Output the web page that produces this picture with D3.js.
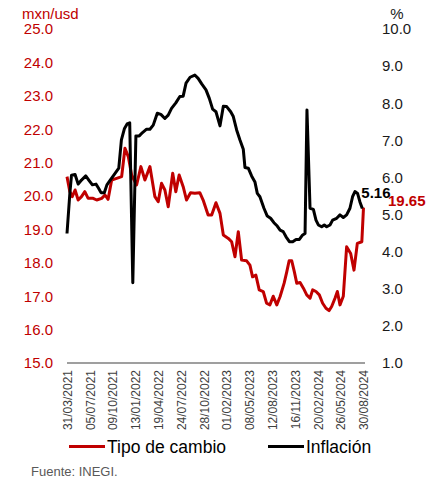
<!DOCTYPE html>
<html lang="es">
<head>
<meta charset="UTF-8">
<title>Tipo de cambio e inflación</title>
<script src="https://d3js.org/d3.v7.min.js"></script>
<style>
  body { margin: 0; background: #fff; }
  #grafico text { font-family: "Liberation Sans", Arial, sans-serif; }
</style>
</head>
<body>
<div id="grafico"></div>
<script>
"use strict"

// tipo de cambio (mxn/usd), eje izquierdo
var fechasTC = ["2021-03-31","2021-04-12","2021-04-22","2021-05-04","2021-05-17","2021-05-31","2021-06-14","2021-06-28",
  "2021-07-19","2021-08-03","2021-08-24","2021-09-07","2021-09-20","2021-10-05","2021-10-26","2021-11-16","2021-11-30",
  "2021-12-14","2021-12-28","2022-01-18","2022-02-05","2022-02-22","2022-03-15","2022-04-05","2022-04-19","2022-05-03",
  "2022-05-17","2022-05-31","2022-06-19","2022-07-02","2022-07-16","2022-08-02","2022-08-16","2022-09-02","2022-09-20",
  "2022-10-11","2022-10-25","2022-11-15","2022-11-30","2022-12-18","2023-01-04","2023-01-18","2023-02-08","2023-02-22",
  "2023-03-08","2023-03-22","2023-04-05","2023-04-26","2023-05-10","2023-05-21","2023-06-04","2023-06-18","2023-07-05",
  "2023-07-19","2023-08-02","2023-08-16","2023-08-31","2023-09-14","2023-10-01","2023-10-12","2023-10-22","2023-11-02",
  "2023-11-13","2023-11-23","2023-12-07","2023-12-21","2024-01-04","2024-01-18","2024-01-29","2024-02-12","2024-02-26",
  "2024-03-11","2024-03-25","2024-04-07","2024-04-18","2024-05-02","2024-05-12","2024-05-23","2024-06-06","2024-06-20",
  "2024-07-07","2024-07-21","2024-08-04","2024-08-23","2024-08-30"];
var tipoCambio = [20.58,20.13,19.98,20.18,19.88,19.98,20.13,19.93,
  19.93,19.88,19.93,20.03,19.90,20.48,20.53,20.58,21.43,
  21.18,20.63,20.33,20.88,20.48,20.88,19.98,19.83,20.38,
  20.18,19.68,20.68,20.13,20.63,20.28,19.88,20.10,20.08,
  20.10,19.88,19.43,19.43,19.80,19.48,18.83,18.73,18.63,
  18.18,18.93,18.08,18.06,17.93,17.58,17.63,17.19,17.14,
  16.79,16.74,17.00,16.74,16.99,17.39,17.73,18.06,18.06,
  17.73,17.39,17.41,17.24,17.04,16.94,17.19,17.14,17.04,
  16.79,16.64,16.57,16.69,16.94,17.14,16.74,17.00,18.48,
  18.28,17.78,18.58,18.63,19.65];

// inflación anual (%), eje derecho
var fechasInf = ["2021-03-31","2021-04-12","2021-04-19","2021-05-04","2021-05-17","2021-05-31","2021-06-18","2021-07-03",
  "2021-07-16","2021-07-31","2021-08-11","2021-08-21","2021-09-04","2021-09-15","2021-09-29","2021-10-17","2021-11-04",
  "2021-11-15","2021-11-28","2021-12-09","2021-12-20","2022-01-02","2022-01-15","2022-01-29","2022-02-12","2022-03-01",
  "2022-03-15","2022-03-29","2022-04-15","2022-04-30","2022-05-17","2022-05-31","2022-06-14","2022-07-02","2022-07-19",
  "2022-08-02","2022-08-14","2022-08-31","2022-09-20","2022-10-04","2022-10-19","2022-11-06","2022-11-20","2022-12-04",
  "2022-12-18","2023-01-04","2023-01-18","2023-02-01","2023-02-18","2023-03-01","2023-03-15","2023-03-29","2023-04-12",
  "2023-04-19","2023-05-03","2023-05-17","2023-05-31","2023-06-10","2023-06-21","2023-07-08","2023-07-22","2023-08-05",
  "2023-08-19","2023-09-02","2023-09-14","2023-09-27","2023-10-09","2023-10-23","2023-11-06","2023-11-20","2023-12-04",
  "2023-12-18","2023-12-28","2024-01-05","2024-01-18","2024-02-01","2024-02-12","2024-02-22","2024-03-07","2024-03-18",
  "2024-03-28","2024-04-11","2024-04-22","2024-05-09","2024-05-23","2024-06-06","2024-06-20","2024-07-04","2024-07-15",
  "2024-07-25","2024-08-05","2024-08-15","2024-08-25"];
var inflacion = [4.49,5.57,6.06,6.08,5.82,5.93,6.04,5.91,
  5.80,5.82,5.71,5.59,5.59,5.80,5.93,6.09,6.25,
  7.01,7.32,7.44,7.47,3.16,7.12,7.12,7.21,7.30,
  7.30,7.41,7.73,7.70,7.59,7.68,7.86,8.01,8.18,
  8.19,8.54,8.70,8.76,8.67,8.52,8.36,8.13,7.84,
  7.77,7.39,7.92,7.91,7.77,7.64,7.28,7.01,6.76,
  6.27,6.25,6.04,5.88,5.57,5.48,5.17,4.96,4.90,
  4.78,4.69,4.58,4.54,4.40,4.27,4.27,4.33,4.33,
  4.45,4.49,7.82,5.17,5.14,4.85,4.72,4.67,4.72,
  4.67,4.72,4.85,4.90,4.99,4.92,4.99,5.17,5.48,
  5.62,5.57,5.34,5.16];

// etiquetas del eje x
var fechasEje = ["2021-03-31","2021-07-05","2021-10-09","2022-01-13","2022-04-19","2022-07-24","2022-10-28",
  "2023-02-01","2023-05-08","2023-08-12","2023-11-16","2024-02-20","2024-05-26","2024-08-30"];
var ticksIzq = [15, 16, 17, 18, 19, 20, 21, 22, 23, 24, 25];
var ticksDer = [1, 2, 3, 4, 5, 6, 7, 8, 9, 10];

var series = ["Tipo de cambio", "Inflación"];

function desenha() {
  var larguraSVG = 440, alturaSVG = 480;
  var rojo = "#C00000", negro = "#000000";
  var parse = d3.timeParse("%Y-%m-%d");

  var svg = d3.select("#grafico")
    .append("svg")
      .attr("width", larguraSVG)
      .attr("height", alturaSVG);

  var x = d3.scaleTime()
    .domain([parse(fechasEje[0]), parse(fechasEje[fechasEje.length - 1])])
    .range([67, 363.5]);

  var yIzq = d3.scaleLinear().domain([15, 25]).range([363, 29]);
  var yDer = d3.scaleLinear().domain([1, 10]).range([363, 29]);

  // eje x
  var ejeX = svg.append("g")
    .attr("transform", "translate(0,363)")
    .call(d3.axisBottom(x)
      .tickValues(fechasEje.map(parse))
      .tickSize(0)
      .tickFormat(d3.timeFormat("%d/%m/%Y")));
  ejeX.select(".domain").attr("stroke", "#7f7f7f").attr("stroke-width", 1.3)
    .attr("d", "M67,0H365");
  ejeX.selectAll("text")
    .attr("transform", "rotate(-90)")
    .attr("x", -7)
    .attr("y", 0)
    .attr("dy", "0.35em")
    .style("text-anchor", "end")
    .style("font-size", "12px")
    .attr("fill", "#404040");

  // eje izquierdo
  var ejeIzq = svg.append("g")
    .attr("transform", "translate(53,0)")
    .call(d3.axisLeft(yIzq).tickValues(ticksIzq).tickSize(0).tickPadding(0).tickFormat(d3.format(".1f")));
  ejeIzq.select(".domain").remove();
  ejeIzq.selectAll("text").style("font-size", "15px").attr("fill", rojo);

  // eje derecho
  var ejeDer = svg.append("g")
    .attr("transform", "translate(382,0)")
    .call(d3.axisRight(yDer).tickValues(ticksDer).tickSize(0).tickPadding(0).tickFormat(d3.format(".1f")));
  ejeDer.select(".domain").remove();
  ejeDer.selectAll("text").style("font-size", "15px").attr("fill", "#1a1a1a");

  svg.append("text").attr("x", 22).attr("y", 18.5)
    .style("font-size", "15px").attr("fill", rojo).text("mxn/usd");
  svg.append("text").attr("x", 397).attr("y", 18.5)
    .style("font-size", "15px").style("text-anchor", "middle").attr("fill", "#1a1a1a").text("%");

  var lineaTC = d3.line()
    .x((d, i) => x(parse(fechasTC[i])))
    .y(d => yIzq(d));
  var lineaInf = d3.line()
    .x((d, i) => x(parse(fechasInf[i])))
    .y(d => yDer(d));

  svg.append("path")
    .datum(tipoCambio)
    .attr("fill", "none")
    .attr("stroke", rojo)
    .attr("stroke-width", 3)
    .attr("stroke-linejoin", "round")
    .attr("d", lineaTC);

  svg.append("path")
    .datum(inflacion)
    .attr("fill", "none")
    .attr("stroke", negro)
    .attr("stroke-width", 3)
    .attr("stroke-linejoin", "round")
    .attr("d", lineaInf);

  // etiquetas del último dato
  var ultInf = inflacion[inflacion.length - 1];
  var ultTC = tipoCambio[tipoCambio.length - 1];
  svg.append("text")
    .attr("x", x(parse(fechasInf[fechasInf.length - 1])) - 1)
    .attr("y", yDer(ultInf) - 11)
    .style("font-size", "15px").style("font-weight", "bold")
    .attr("fill", negro).text(ultInf.toFixed(2));
  svg.append("text")
    .attr("x", 388)
    .attr("y", yIzq(ultTC) - 1.5)
    .style("font-size", "15px").style("font-weight", "bold")
    .attr("fill", rojo).text(ultTC.toFixed(2));

  // leyenda
  var leyenda = [{x: 69, color: rojo}, {x: 268, color: negro}];
  leyenda.forEach(function(l, i) {
    svg.append("line")
      .attr("x1", l.x).attr("x2", l.x + 36)
      .attr("y1", 446.5).attr("y2", 446.5)
      .attr("stroke", l.color).attr("stroke-width", 3);
    svg.append("text")
      .attr("x", l.x + 38).attr("y", 452.5)
      .style("font-size", "17.5px").attr("fill", "#000")
      .text(series[i]);
  });

  svg.append("text").attr("x", 31).attr("y", 476)
    .style("font-size", "13px").attr("fill", "#595959")
    .text("Fuente: INEGI.");
}

desenha();
</script>
</body>
</html>
